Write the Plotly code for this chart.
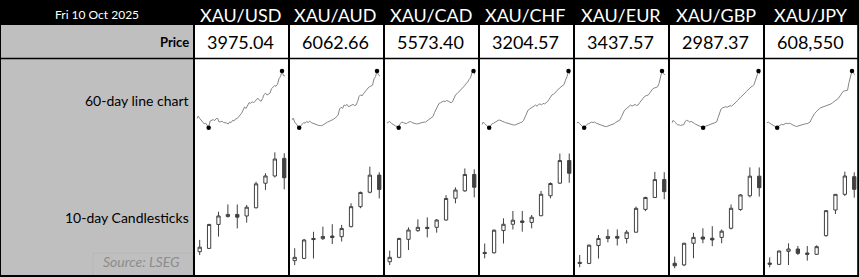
import plotly.graph_objects as go

W, H = 859, 277

DATE_LABEL = "Fri 10 Oct 2025"
PAIRS = ["XAU/USD", "XAU/AUD", "XAU/CAD", "XAU/CHF", "XAU/EUR", "XAU/GBP", "XAU/JPY"]
PRICES = [3975.04, 6062.66, 5573.40, 3204.57, 3437.57, 2987.37, 608550]
ROW_LABELS = ["Price", "60-day line chart", "10-day Candlesticks"]
SOURCE = "Source: LSEG"

# 60-day closes
LINE_USD = [3390, 3425, 3395, 3370, 3340, 3320, 3330, 3295, 3268, 3360, 3370, 3378, 3365, 3392, 3395,
            3345, 3350, 3356, 3338, 3336, 3332, 3318, 3345, 3338, 3368, 3362, 3388, 3392, 3410, 3440,
            3465, 3515, 3550, 3530, 3565, 3610, 3600, 3620, 3612, 3625, 3655, 3668, 3640, 3628, 3665,
            3720, 3738, 3712, 3725, 3738, 3800, 3828, 3840, 3832, 3860, 3935, 3965, 4040, 3976, 3975.04]
LINE_AUD = [5238, 5280, 5206, 5174, 5142, 5100, 5132, 5164, 5195, 5185, 5217, 5195, 5227, 5195, 5185,
            5164, 5153, 5153, 5142, 5142, 5137, 5153, 5174, 5195, 5206, 5217, 5227, 5238, 5259, 5280,
            5301, 5333, 5450, 5482, 5460, 5524, 5513, 5535, 5492, 5503, 5524, 5535, 5513, 5524, 5588,
            5683, 5715, 5694, 5736, 5768, 5821, 5842, 5863, 5884, 5895, 6012, 6054, 6160, 6086, 6062.66]
LINE_CAD = [4646, 4668, 4679, 4646, 4625, 4614, 4592, 4582, 4560, 4636, 4668, 4657, 4646, 4636, 4657,
            4668, 4679, 4657, 4646, 4636, 4630, 4636, 4646, 4657, 4657, 4668, 4668, 4690, 4711, 4733,
            4754, 4776, 4852, 4916, 4970, 5024, 5035, 5046, 5068, 5057, 5078, 5068, 5046, 5035, 5057,
            5122, 5186, 5208, 5240, 5273, 5294, 5316, 5359, 5402, 5424, 5478, 5510, 5608, 5640, 5573.40]
LINE_CHF = [2689, 2718, 2701, 2683, 2672, 2660, 2677, 2701, 2706, 2718, 2724, 2735, 2738, 2730, 2718,
            2718, 2712, 2706, 2701, 2695, 2689, 2689, 2686, 2695, 2701, 2706, 2712, 2718, 2735, 2776,
            2817, 2840, 2851, 2863, 2869, 2886, 2892, 2880, 2898, 2904, 2892, 2909, 2904, 2915, 2927,
            2950, 2979, 2996, 3002, 3020, 3037, 3054, 3066, 3078, 3089, 3101, 3147, 3182, 3240, 3204.57]
LINE_EUR = [2882, 2895, 2876, 2856, 2843, 2830, 2850, 2869, 2876, 2882, 2895, 2889, 2895, 2882, 2876,
            2863, 2856, 2850, 2850, 2843, 2843, 2850, 2856, 2856, 2863, 2876, 2889, 2902, 2908, 2921,
            2960, 3006, 3032, 3045, 3064, 3077, 3090, 3077, 3090, 3097, 3084, 3090, 3116, 3142, 3168,
            3181, 3194, 3201, 3207, 3233, 3259, 3279, 3285, 3292, 3298, 3337, 3402, 3480, 3448, 3437.57]
LINE_GBP = [2505, 2533, 2516, 2499, 2488, 2488, 2482, 2488, 2488, 2522, 2533, 2527, 2516, 2522, 2516,
            2505, 2494, 2488, 2482, 2477, 2471, 2460, 2471, 2477, 2482, 2488, 2488, 2494, 2505, 2510,
            2516, 2561, 2611, 2645, 2656, 2662, 2667, 2662, 2673, 2678, 2673, 2684, 2695, 2712, 2729,
            2751, 2762, 2774, 2785, 2802, 2818, 2835, 2852, 2863, 2869, 2886, 2930, 2975, 3020, 2987.37]
LINE_JPY = [497400, 500000, 497400, 494800, 493500, 490900, 489600, 487000, 490900, 493500, 494800,
            493500, 496100, 497400, 496100, 497400, 496100, 493500, 492200, 490900, 489600, 490900,
            492200, 493500, 493500, 494800, 496100, 496100, 497400, 500000, 507800, 515600, 519500,
            523400, 527300, 529900, 532500, 533800, 535100, 536400, 537700, 539000, 539000, 541600,
            544200, 546800, 549400, 550700, 554600, 559800, 565000, 570200, 571500, 571500, 572800,
            591000, 604000, 617000, 611800, 608550]

# 10-day OHLC
USD_OPEN = [3731, 3742, 3821, 3847, 3854, 3849, 3876, 3957, 3981, 4039]
USD_HIGH = [3770, 3823, 3863, 3887, 3887, 3885, 3962, 3990, 4059, 4056]
USD_LOW = [3720, 3740, 3781, 3844, 3808, 3827, 3874, 3935, 3976, 3937]
USD_CLOSE = [3746, 3821, 3849, 3854, 3845, 3878, 3955, 3981, 4037, 3975.04]

AUD_OPEN = [5742, 5752, 5842, 5841, 5853, 5850, 5895, 5985, 6050, 6127]
AUD_HIGH = [5798, 5840, 5872, 5895, 5906, 5903, 6000, 6053, 6165, 6140]
AUD_LOW = [5722, 5749, 5752, 5835, 5817, 5828, 5892, 5978, 6045, 6022]
AUD_CLOSE = [5757, 5835, 5837, 5851, 5846, 5887, 5985, 6049, 6127, 6062.66]

CAD_OPEN = [5238, 5258, 5339, 5378, 5393, 5393, 5426, 5524, 5557, 5631]
CAD_HIGH = [5288, 5346, 5393, 5429, 5438, 5430, 5538, 5573, 5658, 5654]
CAD_LOW = [5223, 5254, 5291, 5373, 5348, 5369, 5423, 5501, 5553, 5528]
CAD_CLOSE = [5258, 5343, 5381, 5393, 5388, 5426, 5523, 5561, 5631, 5573.40]

CHF_OPEN = [2991, 2990, 3050, 3067, 3076, 3072, 3090, 3144, 3178, 3239]
CHF_HIGH = [3015, 3053, 3083, 3103, 3103, 3092, 3157, 3180, 3258, 3258]
CHF_LOW = [2975, 2988, 3015, 3053, 3047, 3056, 3089, 3137, 3176, 3179]
CHF_CLOSE = [2988, 3051, 3067, 3078, 3072, 3086, 3148, 3177, 3239, 3204.57]

EUR_OPEN = [3236, 3233, 3284, 3304, 3310, 3304, 3322, 3387, 3421, 3472]
EUR_HIGH = [3257, 3287, 3314, 3330, 3330, 3328, 3395, 3423, 3494, 3493]
EUR_LOW = [3222, 3231, 3247, 3293, 3284, 3290, 3321, 3382, 3421, 3416]
EUR_CLOSE = [3233, 3285, 3304, 3310, 3305, 3322, 3390, 3421, 3472, 3437.57]

GBP_OPEN = [2806, 2802, 2854, 2869, 2866, 2868, 2890, 2935, 2968, 3015]
GBP_HIGH = [2822, 2855, 2879, 2890, 2895, 2887, 2947, 2972, 3036, 3036]
GBP_LOW = [2794, 2799, 2818, 2854, 2847, 2854, 2887, 2932, 2964, 2966]
GBP_CLOSE = [2800, 2854, 2868, 2864, 2862, 2883, 2938, 2970, 3015, 2987.37]

JPY_OPEN = [575400, 574800, 580650, 581700, 579900, 579300, 587700, 599250, 606300, 614250]
JPY_HIGH = [577950, 581000, 584250, 583050, 583050, 583350, 599250, 606450, 616500, 616200]
JPY_LOW = [573450, 574600, 574500, 579000, 576450, 579000, 587250, 597450, 605550, 604800]
JPY_CLOSE = [574800, 580800, 581700, 579750, 579300, 582750, 598950, 606300, 614550, 608550]

# candle value-axis windows (Excel-like fixed scales)
CANDLE_YRANGE = [[3654.2, 4099.7], [5677.5, 6285], [5178.5, 5786], [2930, 3294.5],
                 [3200, 3584.8], [2777.8, 3101.8], [570000, 630750]]

LINES = [LINE_USD, LINE_AUD, LINE_CAD, LINE_CHF, LINE_EUR, LINE_GBP, LINE_JPY]
CANDLES = [
    (USD_OPEN, USD_HIGH, USD_LOW, USD_CLOSE),
    (AUD_OPEN, AUD_HIGH, AUD_LOW, AUD_CLOSE),
    (CAD_OPEN, CAD_HIGH, CAD_LOW, CAD_CLOSE),
    (CHF_OPEN, CHF_HIGH, CHF_LOW, CHF_CLOSE),
    (EUR_OPEN, EUR_HIGH, EUR_LOW, EUR_CLOSE),
    (GBP_OPEN, GBP_HIGH, GBP_LOW, GBP_CLOSE),
    (JPY_OPEN, JPY_HIGH, JPY_LOW, JPY_CLOSE),
]

FONT = "Lato, 'Open Sans', sans-serif"
GRAY = "#bfbfbf"
DARK = "#404040"


def X(px):
    return px / W


def Y(py):
    return 1 - py / H


def fmt_price(p):
    return f"{p:,.0f}" if p >= 100000 else f"{p:.2f}"


COL0, COLW = 193, 95

fig = go.Figure()
layout_axes = {}
n = 0
for i, pair in enumerate(PAIRS):
    left = COL0 + COLW * i

    # ---- 60-day line chart
    n += 1
    ax = "" if n == 1 else str(n)
    series = LINES[i]
    xs = list(range(len(series)))
    fig.add_trace(go.Scatter(x=xs, y=series, mode="lines",
                             line=dict(color="#858585", width=1),
                             xaxis="x" + ax, yaxis="y" + ax, hoverinfo="skip"))
    imin = series.index(min(series))
    imax = series.index(max(series))
    fig.add_trace(go.Scatter(x=[imin, imax], y=[series[imin], series[imax]], mode="markers",
                             marker=dict(color="black", size=4.5), cliponaxis=False,
                             xaxis="x" + ax, yaxis="y" + ax, hoverinfo="skip"))
    layout_axes["xaxis" + ax] = dict(domain=[X(left + 3.7), X(left + 92)],
                                     range=[0, len(series) - 1], visible=False, fixedrange=True)
    layout_axes["yaxis" + ax] = dict(domain=[Y(127.7), Y(71)],
                                     range=[min(series), max(series)], visible=False,
                                     anchor="x" + ax, fixedrange=True)

    # ---- 10-day candlesticks
    n += 1
    ax = str(n)
    o, h, l, c = CANDLES[i]
    fig.add_trace(go.Candlestick(
        x=list(range(len(o))), open=o, high=h, low=l, close=c,
        increasing=dict(line=dict(color=DARK, width=1), fillcolor="white"),
        decreasing=dict(line=dict(color=DARK, width=1), fillcolor=DARK),
        whiskerwidth=0, xaxis="x" + ax, yaxis="y" + ax, hoverinfo="skip"))
    layout_axes["xaxis" + ax] = dict(domain=[X(left + 2), X(left + 95)], range=[-0.5, 9.4],
                                     visible=False, fixedrange=True,
                                     rangeslider=dict(visible=False))
    layout_axes["yaxis" + ax] = dict(domain=[Y(275), Y(140)], range=CANDLE_YRANGE[i],
                                     visible=False, anchor="x" + ax, fixedrange=True)

# ---- table shapes
shapes = [
    dict(type="rect", xref="paper", yref="paper", x0=0, x1=1, y0=Y(25), y1=1,
         fillcolor="black", line=dict(width=0), layer="below"),
    dict(type="rect", xref="paper", yref="paper", x0=0, x1=X(193), y0=Y(276), y1=Y(25),
         fillcolor=GRAY, line=dict(width=0), layer="below"),
    dict(type="rect", xref="paper", yref="paper", x0=X(93), x1=X(193), y0=Y(276), y1=Y(253),
         fillcolor="rgba(0,0,0,0)", line=dict(color="#b7b7b7", width=1), layer="below"),
]
for k in range(len(PAIRS) + 1):
    xc = 194 + COLW * k
    if k == len(PAIRS):
        xc = 858.2
    shapes.append(dict(type="line", xref="paper", yref="paper", x0=X(xc), x1=X(xc),
                       y0=Y(25), y1=Y(277), line=dict(color="black", width=2)))
shapes.append(dict(type="line", xref="paper", yref="paper", x0=X(0.5), x1=X(0.5),
                   y0=Y(0), y1=Y(277), line=dict(color="black", width=1)))
shapes.append(dict(type="line", xref="paper", yref="paper", x0=0, x1=1,
                   y0=Y(58.5), y1=Y(58.5), line=dict(color="black", width=1.5)))
shapes.append(dict(type="line", xref="paper", yref="paper", x0=0, x1=1,
                   y0=Y(276), y1=Y(276), line=dict(color="black", width=2)))

# ---- texts
ann = []


def text(x, y, s, size, color="black", xanchor="center", weight="normal"):
    ann.append(dict(x=X(x), y=Y(y), xref="paper", yref="paper", text=s, showarrow=False,
                    xanchor=xanchor, yanchor="middle",
                    font=dict(family=FONT, size=size, color=color, weight=weight)))


text(96.5, 14, DATE_LABEL, 12, color="white")
for i, pair in enumerate(PAIRS):
    cx = COL0 + COLW * i + COLW / 2
    text(cx, 15, pair, 18, color="white")
    text(cx, 42, fmt_price(PRICES[i]), 18)
text(191, 42, ROW_LABELS[0], 13, xanchor="right", weight="bold")
text(191, 100, ROW_LABELS[1], 14, xanchor="right")
text(191, 217, ROW_LABELS[2], 14, xanchor="right")
text(141, 261, "<i>" + SOURCE + "</i>", 14, color="#8c8c8c")

fig.update_layout(
    width=W, height=H, autosize=False,
    margin=dict(l=0, r=0, t=0, b=0, pad=0),
    paper_bgcolor="white", plot_bgcolor="rgba(0,0,0,0)",
    showlegend=False, boxgap=0.5,
    shapes=shapes, annotations=ann,
    **layout_axes,
)

fig.write_html("out.html", config={"displayModeBar": False})
